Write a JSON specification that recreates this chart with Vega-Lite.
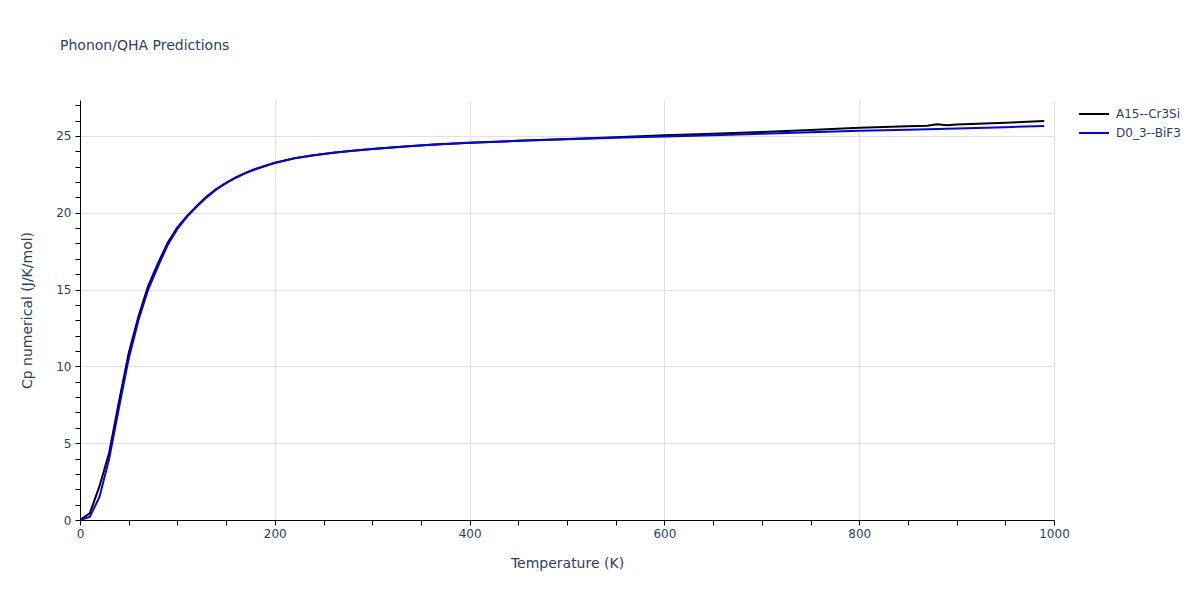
{
  "$schema": "https://vega.github.io/schema/vega-lite/v6.json",
  "autosize": {"type": "none"},
  "width": 974,
  "height": 420,
  "padding": {"left": 80, "top": 100, "right": 146, "bottom": 80},
  "background": "white",
  "title": {
    "text": "Phonon/QHA Predictions",
    "anchor": "start",
    "frame": "group",
    "dx": -20,
    "offset": 46,
    "font": "DejaVu Sans",
    "fontSize": 14,
    "fontWeight": "normal",
    "color": "#2a3f5f"
  },
  "config": {
    "view": {"stroke": null},
    "axis": {
      "labelFont": "DejaVu Sans",
      "labelFontSize": 12,
      "labelColor": "#2a3f5f",
      "titleFont": "DejaVu Sans",
      "titleFontSize": 14,
      "titleFontWeight": "normal",
      "titleColor": "#2a3f5f",
      "domainColor": "black",
      "domainWidth": 1,
      "tickColor": "black",
      "tickSize": 5,
      "gridColor": "#e1e1e1",
      "labelFlush": false,
      "labelOverlap": false
    },
    "legend": {
      "labelFont": "DejaVu Sans",
      "labelFontSize": 12,
      "labelColor": "#2a3f5f"
    }
  },
  "data": {
    "values": [
      {"T": 0, "Cp": 0, "series": "A15--Cr3Si"},
      {"T": 10, "Cp": 0.43, "series": "A15--Cr3Si"},
      {"T": 20, "Cp": 2.2, "series": "A15--Cr3Si"},
      {"T": 30, "Cp": 4.4, "series": "A15--Cr3Si"},
      {"T": 40, "Cp": 7.7, "series": "A15--Cr3Si"},
      {"T": 50, "Cp": 10.85, "series": "A15--Cr3Si"},
      {"T": 60, "Cp": 13.25, "series": "A15--Cr3Si"},
      {"T": 70, "Cp": 15.25, "series": "A15--Cr3Si"},
      {"T": 80, "Cp": 16.7, "series": "A15--Cr3Si"},
      {"T": 90, "Cp": 18.05, "series": "A15--Cr3Si"},
      {"T": 100, "Cp": 19.05, "series": "A15--Cr3Si"},
      {"T": 110, "Cp": 19.8, "series": "A15--Cr3Si"},
      {"T": 120, "Cp": 20.45, "series": "A15--Cr3Si"},
      {"T": 130, "Cp": 21.05, "series": "A15--Cr3Si"},
      {"T": 140, "Cp": 21.55, "series": "A15--Cr3Si"},
      {"T": 150, "Cp": 21.95, "series": "A15--Cr3Si"},
      {"T": 160, "Cp": 22.3, "series": "A15--Cr3Si"},
      {"T": 170, "Cp": 22.6, "series": "A15--Cr3Si"},
      {"T": 180, "Cp": 22.85, "series": "A15--Cr3Si"},
      {"T": 190, "Cp": 23.05, "series": "A15--Cr3Si"},
      {"T": 200, "Cp": 23.25, "series": "A15--Cr3Si"},
      {"T": 220, "Cp": 23.55, "series": "A15--Cr3Si"},
      {"T": 240, "Cp": 23.75, "series": "A15--Cr3Si"},
      {"T": 260, "Cp": 23.9, "series": "A15--Cr3Si"},
      {"T": 280, "Cp": 24.03, "series": "A15--Cr3Si"},
      {"T": 300, "Cp": 24.15, "series": "A15--Cr3Si"},
      {"T": 330, "Cp": 24.3, "series": "A15--Cr3Si"},
      {"T": 360, "Cp": 24.42, "series": "A15--Cr3Si"},
      {"T": 400, "Cp": 24.55, "series": "A15--Cr3Si"},
      {"T": 450, "Cp": 24.68, "series": "A15--Cr3Si"},
      {"T": 500, "Cp": 24.8, "series": "A15--Cr3Si"},
      {"T": 550, "Cp": 24.92, "series": "A15--Cr3Si"},
      {"T": 600, "Cp": 25.04, "series": "A15--Cr3Si"},
      {"T": 650, "Cp": 25.14, "series": "A15--Cr3Si"},
      {"T": 700, "Cp": 25.26, "series": "A15--Cr3Si"},
      {"T": 750, "Cp": 25.38, "series": "A15--Cr3Si"},
      {"T": 800, "Cp": 25.53, "series": "A15--Cr3Si"},
      {"T": 850, "Cp": 25.63, "series": "A15--Cr3Si"},
      {"T": 870, "Cp": 25.67, "series": "A15--Cr3Si"},
      {"T": 880, "Cp": 25.76, "series": "A15--Cr3Si"},
      {"T": 890, "Cp": 25.7, "series": "A15--Cr3Si"},
      {"T": 900, "Cp": 25.74, "series": "A15--Cr3Si"},
      {"T": 950, "Cp": 25.86, "series": "A15--Cr3Si"},
      {"T": 990, "Cp": 25.98, "series": "A15--Cr3Si"},
      {"T": 0, "Cp": 0, "series": "D0_3--BiF3"},
      {"T": 10, "Cp": 0.2, "series": "D0_3--BiF3"},
      {"T": 20, "Cp": 1.5, "series": "D0_3--BiF3"},
      {"T": 30, "Cp": 4.0, "series": "D0_3--BiF3"},
      {"T": 40, "Cp": 7.3, "series": "D0_3--BiF3"},
      {"T": 50, "Cp": 10.5, "series": "D0_3--BiF3"},
      {"T": 60, "Cp": 13.0, "series": "D0_3--BiF3"},
      {"T": 70, "Cp": 15.0, "series": "D0_3--BiF3"},
      {"T": 80, "Cp": 16.5, "series": "D0_3--BiF3"},
      {"T": 90, "Cp": 17.9, "series": "D0_3--BiF3"},
      {"T": 100, "Cp": 18.95, "series": "D0_3--BiF3"},
      {"T": 110, "Cp": 19.75, "series": "D0_3--BiF3"},
      {"T": 120, "Cp": 20.4, "series": "D0_3--BiF3"},
      {"T": 130, "Cp": 21.0, "series": "D0_3--BiF3"},
      {"T": 140, "Cp": 21.52, "series": "D0_3--BiF3"},
      {"T": 150, "Cp": 21.93, "series": "D0_3--BiF3"},
      {"T": 160, "Cp": 22.28, "series": "D0_3--BiF3"},
      {"T": 170, "Cp": 22.58, "series": "D0_3--BiF3"},
      {"T": 180, "Cp": 22.83, "series": "D0_3--BiF3"},
      {"T": 190, "Cp": 23.04, "series": "D0_3--BiF3"},
      {"T": 200, "Cp": 23.23, "series": "D0_3--BiF3"},
      {"T": 220, "Cp": 23.54, "series": "D0_3--BiF3"},
      {"T": 240, "Cp": 23.74, "series": "D0_3--BiF3"},
      {"T": 260, "Cp": 23.9, "series": "D0_3--BiF3"},
      {"T": 280, "Cp": 24.03, "series": "D0_3--BiF3"},
      {"T": 300, "Cp": 24.15, "series": "D0_3--BiF3"},
      {"T": 330, "Cp": 24.3, "series": "D0_3--BiF3"},
      {"T": 360, "Cp": 24.42, "series": "D0_3--BiF3"},
      {"T": 400, "Cp": 24.55, "series": "D0_3--BiF3"},
      {"T": 450, "Cp": 24.68, "series": "D0_3--BiF3"},
      {"T": 500, "Cp": 24.79, "series": "D0_3--BiF3"},
      {"T": 550, "Cp": 24.88, "series": "D0_3--BiF3"},
      {"T": 600, "Cp": 24.96, "series": "D0_3--BiF3"},
      {"T": 650, "Cp": 25.05, "series": "D0_3--BiF3"},
      {"T": 700, "Cp": 25.14, "series": "D0_3--BiF3"},
      {"T": 750, "Cp": 25.24, "series": "D0_3--BiF3"},
      {"T": 800, "Cp": 25.34, "series": "D0_3--BiF3"},
      {"T": 850, "Cp": 25.41, "series": "D0_3--BiF3"},
      {"T": 900, "Cp": 25.48, "series": "D0_3--BiF3"},
      {"T": 950, "Cp": 25.57, "series": "D0_3--BiF3"},
      {"T": 990, "Cp": 25.65, "series": "D0_3--BiF3"}
    ]
  },
  "mark": {"type": "line", "strokeWidth": 2, "clip": true},
  "encoding": {
    "x": {
      "field": "T",
      "type": "quantitative",
      "title": "Temperature (K)",
      "scale": {"domain": [0, 1000], "nice": false, "zero": false},
      "axis": {
        "values": [0, 50, 100, 150, 200, 250, 300, 350, 400, 450, 500, 550, 600, 650, 700, 750, 800, 850, 900, 950, 1000],
        "labelExpr": "datum.value % 200 === 0 ? datum.label : ''",
        "format": "d",
        "gridOpacity": {"condition": {"test": "datum.value % 200 === 0 && datum.value > 0", "value": 1}, "value": 0},
        "labelPadding": 3,
        "titlePadding": 17
      }
    },
    "y": {
      "field": "Cp",
      "type": "quantitative",
      "title": "Cp numerical (J/K/mol)",
      "scale": {"domain": [0, 27.34], "nice": false, "zero": false},
      "axis": {
        "values": [0, 1, 2, 3, 4, 5, 6, 7, 8, 9, 10, 11, 12, 13, 14, 15, 16, 17, 18, 19, 20, 21, 22, 23, 24, 25, 26, 27],
        "labelExpr": "datum.value % 5 === 0 ? datum.label : ''",
        "format": "d",
        "gridOpacity": {"condition": {"test": "datum.value % 5 === 0 && datum.value > 0", "value": 1}, "value": 0},
        "labelPadding": 4,
        "titlePadding": 21
      }
    },
    "color": {
      "field": "series",
      "type": "nominal",
      "scale": {"domain": ["A15--Cr3Si", "D0_3--BiF3"], "range": ["black", "blue"]},
      "legend": {
        "title": null,
        "orient": "none",
        "legendX": 998,
        "legendY": 7,
        "symbolType": "stroke",
        "symbolSize": 900,
        "symbolStrokeWidth": 2,
        "clipHeight": 14,
        "rowPadding": 5,
        "labelOffset": 6
      }
    }
  }
}
